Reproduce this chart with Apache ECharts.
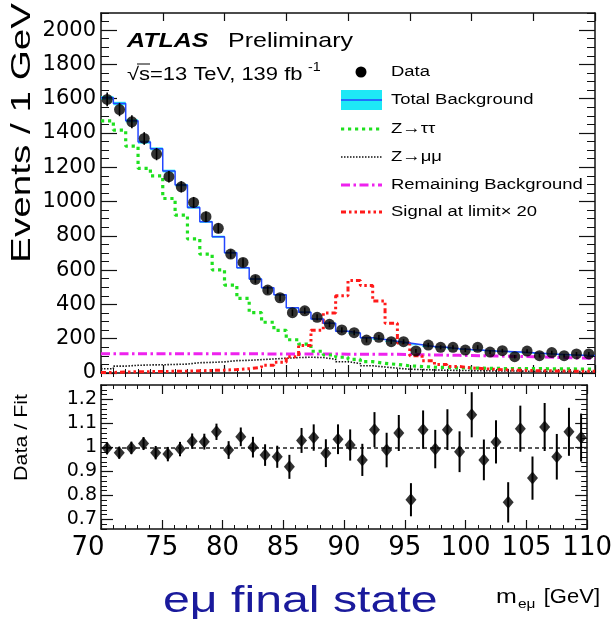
<!DOCTYPE html>
<html>
<head>
<meta charset="utf-8">
<script src="https://cdn.jsdelivr.net/npm/echarts@6/dist/echarts.min.js"></script>
<style>
  html, body { margin: 0; padding: 0; background: #ffffff; }
  #chart { width: 615px; height: 624px; }
</style>
</head>
<body>
<div id="chart"></div>
<script>
// m(e mu) spectrum, 1 GeV bins from 70 to 110 GeV: lower bin edges
const binLowEdges = [70, 71, 72, 73, 74, 75, 76, 77, 78, 79,
                     80, 81, 82, 83, 84, 85, 86, 87, 88, 89,
                     90, 91, 92, 93, 94, 95, 96, 97, 98, 99,
                     100, 101, 102, 103, 104, 105, 106, 107, 108, 109];
const massUpperEdge = 110;

// Observed events per bin and their statistical uncertainty
const dataEvents = [1596, 1537, 1465, 1368, 1277, 1145, 1086, 995, 912, 844,
                    694, 645, 546, 484, 439, 352, 363, 325, 284, 251,
                    235, 192, 208, 183, 183, 129, 163, 150, 150, 134,
                    150, 122, 130, 95, 128, 101, 119, 101, 111, 111];
const dataErrors = [40, 39, 38, 37, 36, 34, 33, 32, 30, 29,
                    26, 25, 23, 22, 21, 19, 19, 18, 17, 16,
                    15, 14, 14, 14, 14, 11, 13, 12, 12, 12,
                    12, 11, 11, 10, 11, 10, 11, 10, 11, 11];

// Background model
const totalBackground = [1605, 1572, 1471, 1347, 1308, 1178, 1096, 966, 882, 795,
                         702, 614, 548, 497, 456, 380, 355, 315, 290, 244,
                         233, 205, 196, 185, 175, 165, 155, 150, 142, 137,
                         133, 129, 126, 122, 118, 114, 110, 106, 104, 102];
const backgroundBand = [10, 10, 9, 9, 8, 8, 7, 7, 6, 6,
                        5, 5, 5, 4, 4, 4, 4, 3, 3, 3,
                        3, 3, 3, 3, 3, 3, 3, 3, 3, 3,
                        3, 3, 3, 3, 3, 3, 3, 3, 3, 3];
const zTauTau = [1471, 1417, 1323, 1194, 1150, 1018, 921, 782, 693, 602,
                 513, 435, 352, 296, 249, 194, 168, 127, 105, 92,
                 80, 66, 56, 50, 42, 38, 34, 32, 30, 29,
                 28, 27, 26, 26, 25, 25, 24, 24, 23, 23];
const zMuMu = [25, 40, 45, 47, 48, 50, 52, 60, 62, 65,
               72, 74, 78, 82, 86, 90, 92, 90, 80, 66,
               55, 42, 35, 28, 22, 20, 18, 16, 15, 14,
               13, 12, 12, 11, 10, 10, 10, 9, 9, 9];
const remainingBackground = [112, 112, 112, 112, 112, 112, 112, 112, 112, 112,
                             112, 112, 112, 111, 111, 111, 111, 111, 111, 110,
                             110, 110, 109, 109, 108, 107, 105, 104, 103, 102,
                             101, 99, 98, 96, 95, 93, 91, 89, 87, 85];
const signalTimes20 = [3, 6, 7, 8, 9, 10, 11, 13, 15, 17,
                       20, 25, 33, 45, 62, 95, 160, 250, 350, 450,
                       540, 510, 420, 290, 175, 100, 72, 50, 38, 30,
                       25, 21, 18, 16, 14, 13, 12, 11, 10, 10];

// Data / fit ratio and its uncertainty
const ratioValues = [0.996, 0.978, 0.998, 1.016, 0.978, 0.972, 0.993, 1.026, 1.024, 1.065,
                     0.989, 1.044, 1.001, 0.968, 0.961, 0.919, 1.029, 1.041, 0.976, 1.034,
                     1.010, 0.948, 1.074, 0.989, 1.060, 0.782, 1.074, 0.993, 1.074, 0.982,
                     1.136, 0.948, 1.023, 0.771, 1.078, 0.872, 1.085, 0.961, 1.065, 1.041];
const ratioErrors = [0.025, 0.025, 0.026, 0.027, 0.028, 0.030, 0.030, 0.032, 0.033, 0.034,
                     0.037, 0.039, 0.043, 0.045, 0.046, 0.050, 0.052, 0.055, 0.058, 0.062,
                     0.065, 0.067, 0.073, 0.072, 0.075, 0.069, 0.080, 0.080, 0.085, 0.085,
                     0.094, 0.085, 0.090, 0.084, 0.096, 0.090, 0.100, 0.095, 0.100, 0.100];

// Axis tick labels
const countTicks = [0, 200, 400, 600, 800, 1000, 1200, 1400, 1600, 1800, 2000];
const ratioTicks = [0.7, 0.8, 0.9, 1, 1.1, 1.2];
const massTicks = [70, 75, 80, 85, 90, 95, 100, 105, 110];

const COUNT_MAX = 2100;
const RATIO_MIN = 0.66, RATIO_MAX = 1.26;

function steps(from, to, step) {
  const out = [];
  for (let v = from; v <= to + 1e-9; v += step) out.push(Math.round(v * 1000) / 1000);
  return out;
}
const countMinor = steps(0, COUNT_MAX, 50);
const ratioMinor = steps(RATIO_MIN, RATIO_MAX, 0.02);
const massMinor = steps(70, 110, 1);

const FRAME = '#111111';
const AXIS_FONT = 'DejaVu Sans';
const TEXT_FONT = '"Liberation Sans", Arial, Helvetica, sans-serif';

// histogram outline: one point per lower bin edge plus the closing edge
function histLine(values) {
  const pts = binLowEdges.map((x, i) => [x, values[i]]);
  pts.push([massUpperEdge, values[values.length - 1]]);
  return pts;
}
const binCenters = binLowEdges.map(x => x + 0.5);

// --- axes: each panel has a frame with inward ticks on all four sides ---
function xAxisPair(grid, pos, majorLen, minorLen, labels) {
  const base = {
    type: 'value', gridIndex: grid, position: pos, min: 70, max: massUpperEdge,
    splitLine: { show: false }
  };
  return [
    Object.assign({}, base, {
      axisLine: { show: true, onZero: false, lineStyle: { color: FRAME, width: 1.5 } },
      axisTick: { show: true, inside: true, length: majorLen, customValues: massTicks,
                  lineStyle: { color: FRAME, width: 1.2 } },
      axisLabel: labels ? {
        show: true, customValues: massTicks, fontFamily: AXIS_FONT,
        fontSize: 26, color: '#000', margin: 6,
        // the first label sits a little left of its tick
        formatter: v => v === massTicks[0] ? '{first|' + v + '}' : String(v),
        rich: { first: { fontFamily: AXIS_FONT, fontSize: 26, color: '#000', padding: [0, 26, 0, 0] } }
      } : { show: false }
    }),
    Object.assign({}, base, {
      axisLine: { show: false },
      axisTick: { show: true, inside: true, length: minorLen, customValues: massMinor,
                  lineStyle: { color: FRAME, width: 1 } },
      axisLabel: { show: false }
    })
  ];
}
function yAxisPair(grid, pos, min, max, major, minor, majorLen, minorLen, label) {
  const base = { type: 'value', gridIndex: grid, position: pos, min: min, max: max,
                 splitLine: { show: false } };
  return [
    Object.assign({}, base, {
      axisLine: { show: true, onZero: false, lineStyle: { color: FRAME, width: 1.5 } },
      axisTick: { show: true, inside: true, length: majorLen, customValues: major,
                  lineStyle: { color: FRAME, width: 1.2 } },
      axisLabel: label ? Object.assign({ show: true, customValues: major, fontFamily: AXIS_FONT,
                                         color: '#000' }, label) : { show: false }
    }),
    Object.assign({}, base, {
      axisLine: { show: false },
      axisTick: { show: true, inside: true, length: minorLen, customValues: minor,
                  lineStyle: { color: FRAME, width: 1 } },
      axisLabel: { show: false }
    })
  ];
}

const xAxes = [].concat(
  xAxisPair(0, 'bottom', 8, 4, false),   // 0,1
  xAxisPair(0, 'top', 8, 4, false),      // 2,3
  xAxisPair(1, 'bottom', 9, 4, true),    // 4,5
  xAxisPair(1, 'top', 9, 4, false)       // 6,7
);
const yAxes = [].concat(
  yAxisPair(0, 'left', 0, COUNT_MAX, countTicks, countMinor, 16, 8,
            { fontSize: 21, margin: 5, formatter: v => String(Math.round(v)) }),       // 0,1
  yAxisPair(0, 'right', 0, COUNT_MAX, countTicks, countMinor, 16, 8, null),           // 2,3
  yAxisPair(1, 'left', RATIO_MIN, RATIO_MAX, ratioTicks, ratioMinor, 12, 6,
            { fontSize: 19, margin: 4, formatter: v => String(Math.round(v * 10) / 10) }), // 4,5
  yAxisPair(1, 'right', RATIO_MIN, RATIO_MAX, ratioTicks, ratioMinor, 12, 6, null)    // 6,7
);

// vertical error bars drawn in data coordinates
function errorBarSeries(name, xAxisIndex, yAxisIndex, centers, values, errors, width) {
  return {
    name: name, type: 'custom', xAxisIndex: xAxisIndex, yAxisIndex: yAxisIndex,
    silent: true, z: 9,
    data: centers.map((x, i) => [x, values[i] - errors[i], values[i] + errors[i]]),
    renderItem: function (params, api) {
      const lo = api.coord([api.value(0), api.value(1)]);
      const hi = api.coord([api.value(0), api.value(2)]);
      return { type: 'line', shape: { x1: lo[0], y1: lo[1], x2: hi[0], y2: hi[1] },
               style: { stroke: '#000', lineWidth: width } };
    }
  };
}

function stepSeries(name, values, color, width, dash, z) {
  return {
    name: name, type: 'line', xAxisIndex: 0, yAxisIndex: 0, step: 'end',
    data: histLine(values), showSymbol: false, symbol: 'none', silent: true, z: z,
    lineStyle: { color: color, width: width, type: dash, cap: 'butt' }
  };
}

const series = [
  // uncertainty band of the total background
  {
    name: 'Background uncertainty', type: 'custom', xAxisIndex: 0, yAxisIndex: 0, silent: true, z: 2,
    data: binLowEdges.map((x, i) => [x, totalBackground[i] - backgroundBand[i], totalBackground[i] + backgroundBand[i]]),
    renderItem: function (params, api) {
      const a = api.coord([api.value(0), api.value(2)]);
      const b = api.coord([api.value(0) + 1, api.value(1)]);
      return { type: 'rect', shape: { x: a[0], y: a[1], width: b[0] - a[0], height: b[1] - a[1] },
               style: { fill: '#1ee8f6' } };
    }
  },
  stepSeries('Remaining Background', remainingBackground, '#ee22ee', 3, [9, 3.5, 2.5, 3.5], 3),
  stepSeries('Z→μμ', zMuMu, '#111111', 1.6, [1.5, 1.5], 4),
  stepSeries('Z→ττ', zTauTau, '#1fe01f', 3.2, [3.2, 3.8], 5),
  stepSeries('Signal at limit× 20', signalTimes20, '#ff1a1a', 3, [5, 3, 2.5, 3, 2.5, 3], 6),
  stepSeries('Total Background', totalBackground, '#2346ff', 1.5, 'solid', 7),
  errorBarSeries('Data errors', 0, 0, binCenters, dataEvents, dataErrors, 1.6),
  {
    name: 'Data', type: 'scatter', xAxisIndex: 0, yAxisIndex: 0, z: 10, silent: true,
    data: binCenters.map((x, i) => [x, dataEvents[i]]),
    symbol: 'circle', symbolSize: 11, itemStyle: { color: '#000' }
  },
  // lower panel
  errorBarSeries('Ratio errors', 4, 4, binCenters, ratioValues, ratioErrors, 2),
  {
    name: 'Data / Fit', type: 'scatter', xAxisIndex: 4, yAxisIndex: 4, z: 10, silent: true,
    data: binCenters.map((x, i) => [x, ratioValues[i]]),
    symbol: 'diamond', symbolSize: [11, 13], itemStyle: { color: '#000' },
    markLine: {
      silent: true, symbol: 'none', label: { show: false },
      lineStyle: { color: '#222', width: 1.5, type: [4, 3] },
      data: [{ yAxis: 1 }]
    }
  }
];

// --- text annotations and legend ---
const SX = 1.19;
function label(text, x, y, size, opts) {
  opts = opts || {};
  return {
    type: 'text', x: x, y: y, scaleX: opts.scaleX || SX, rotation: opts.rotation || 0, z: 20,
    style: {
      text: text, x: 0, y: 0,
      font: (opts.weight || '') + ' ' + size + 'px ' + TEXT_FONT,
      fill: opts.color || '#000', align: opts.align || 'left', verticalAlign: 'middle'
    }
  };
}
const LX0 = 341, LX1 = 382, LTX = 391;
const legendRows = [72, 100, 129, 157, 185, 212];
function legendLine(y, color, width, dash) {
  return { type: 'line', z: 20, shape: { x1: LX0, y1: y, x2: LX1, y2: y },
           style: { stroke: color, lineWidth: width, lineDash: dash } };
}
const graphics = [
  label('ATLAS', 127, 41, 21, { weight: 'italic bold' }),
  label('Preliminary', 228, 41, 21),
  label('√s=13 TeV, 139 fb', 127, 75, 18, { scaleX: 1.22 }),
  label('-1', 308, 68, 12),
  { type: 'line', z: 20, shape: { x1: 137, y1: 64, x2: 150, y2: 64 }, style: { stroke: '#000', lineWidth: 1 } },
  // legend
  { type: 'circle', z: 20, shape: { cx: 361, cy: legendRows[0], r: 5.5 }, style: { fill: '#000' } },
  { type: 'rect', z: 20, shape: { x: LX0, y: legendRows[1] - 10, width: LX1 - LX0, height: 20 }, style: { fill: '#1ee8f6' } },
  legendLine(legendRows[1], '#2346ff', 1.5, null),
  legendLine(legendRows[2], '#1fe01f', 3.2, [3.2, 3.8]),
  legendLine(legendRows[3], '#111111', 1.6, [1.5, 1.5]),
  legendLine(legendRows[4], '#ee22ee', 3, [9, 3.5, 2.5, 3.5]),
  legendLine(legendRows[5], '#ff1a1a', 3, [5, 3, 2.5, 3, 2.5, 3]),
  label('Data', LTX, legendRows[0], 15.5),
  label('Total Background', LTX, legendRows[1], 15.5),
  label('Z→ττ', LTX, legendRows[2], 15.5),
  label('Z→μμ', LTX, legendRows[3], 15.5),
  label('Remaining Background', LTX, legendRows[4], 15.5),
  label('Signal at limit× 20', LTX, legendRows[5], 15.5),
  // axis titles
  label('Events / 1 GeV', 22, 3, 28, { rotation: Math.PI / 2, align: 'right', scaleX: 1.38 }),
  label('Data / Fit', 22, 394, 18, { rotation: Math.PI / 2, align: 'right', scaleX: 1.19 }),
  label('m', 496, 597, 21),
  label('eμ', 518, 604, 13),
  label('[GeV]', 600, 597, 20, { align: 'right', scaleX: 1.1 }),
  label('eμ final state', 163, 602, 36, { color: '#1a1a9c', scaleX: 1.34 })
];

const chart = echarts.init(document.getElementById('chart'), null, { renderer: 'canvas' });
chart.setOption({
  animation: false,
  backgroundColor: '#ffffff',
  grid: [
    { left: 101, top: 13, width: 494, height: 360, containLabel: false },
    { left: 101, top: 385, width: 494, height: 144, containLabel: false }
  ],
  xAxis: xAxes,
  yAxis: yAxes,
  series: series,
  graphic: graphics
});
</script>
</body>
</html>
